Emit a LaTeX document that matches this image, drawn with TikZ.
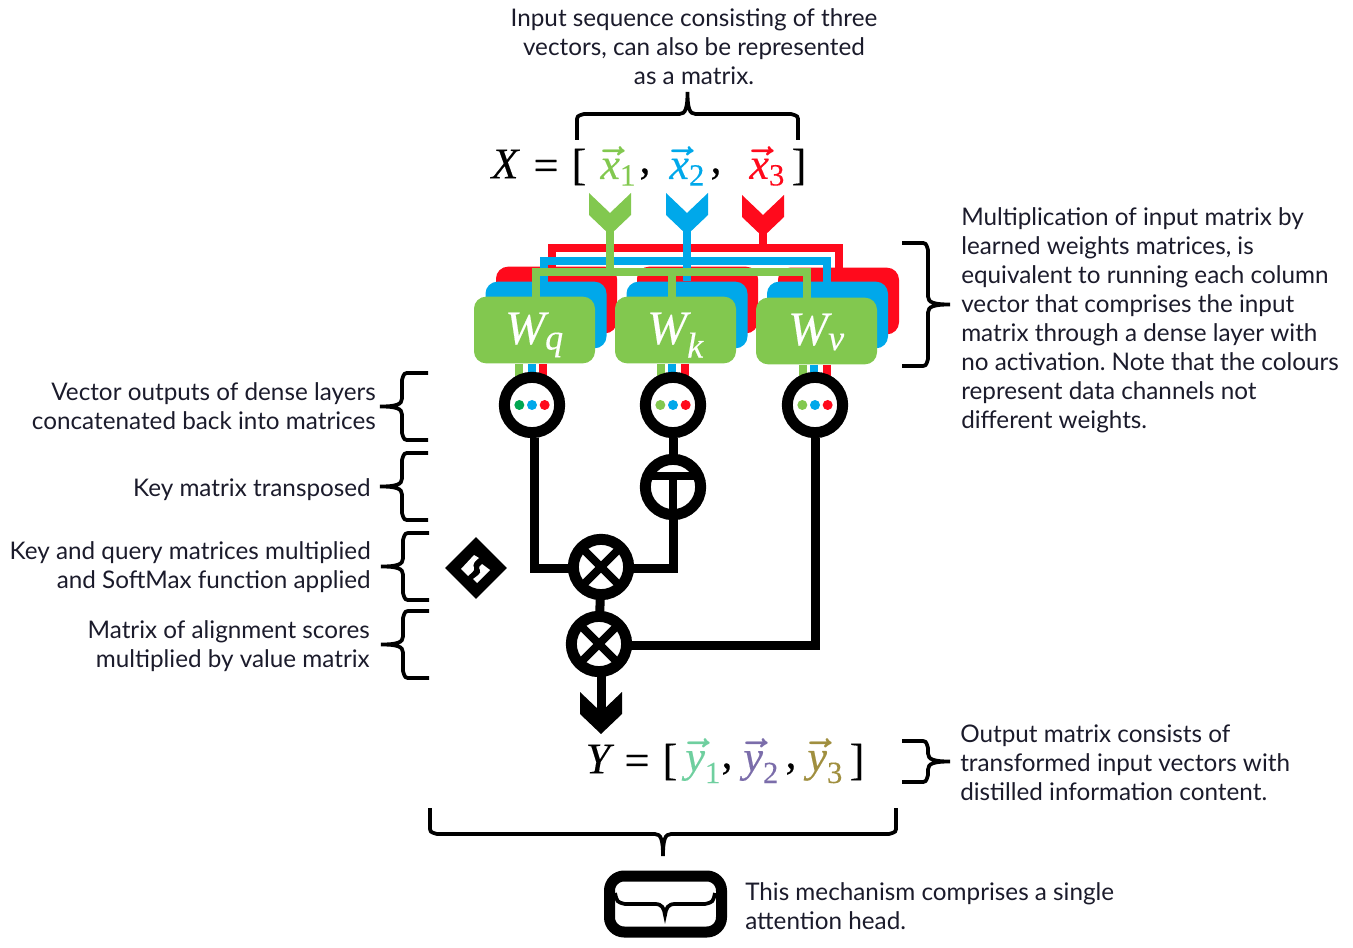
\documentclass[tikz,border=0pt]{standalone}
\usepackage{fontspec}
\setmainfont{Lato}
\newfontfamily\symfont[FakeBold=0.3]{Liberation Serif}
\frenchspacing
\usetikzlibrary{shapes.geometric}
\definecolor{wgreen}{HTML}{82C84F}
\definecolor{wblue}{HTML}{00A8EA}
\definecolor{wred}{HTML}{FF0A1C}
\definecolor{dotgreen}{HTML}{00A651}
\definecolor{ymint}{HTML}{6FCF9F}
\definecolor{ypurple}{HTML}{7B6DAA}
\definecolor{yolive}{HTML}{A08F3F}
\definecolor{inktext}{HTML}{1B1B2B}
\newcommand{\symit}[1]{\hbox{\symfont\itshape #1}}
\newcommand{\veclabel}[2]{{\boldmath$\vec{\symit{#1}}_{\hbox{\symfont\fontsize{7}{7}\selectfont #2}}$}}
\newcommand{\wsub}[1]{\raisebox{-10.5pt}[12pt][12pt]{\symit{W}$_{\hbox{\symfont\itshape\fontsize{27}{27}\selectfont #1}}$}}
\tikzset{
    wbox/.style={rounded corners=9pt, minimum width=90.75pt, minimum height=50pt, inner sep=0pt},
    wlabel/.style={text=white, font=\fontsize{36}{36}\selectfont},
    ring/.style={circle, draw=black, line width=8.25pt, fill=white, minimum size=41.5pt, inner sep=0pt},
    wire/.style={line width=6.75pt, draw=black},
    feed/.style={line width=6.5pt},
    dot/.style={circle, inner sep=0pt, minimum size=7.5pt},
    sym/.style={transform shape, scale=3.3, inner sep=0pt, font=\symfont},
    note/.style={text=inktext, font=\fontsize{18.2}{21.75}\selectfont, inner sep=0pt},
    curlyline/.style={draw=black, line width=2.8pt},
    chevron/.pic={\fill[pic actions] (-21,0) -- (0,20) -- (21,0) -- (21,22) -- (0,42) -- (-21,22) -- cycle;},
    curl/.pic={\draw[curlyline] (-#1,0) -- (-#1,-18) .. controls (-#1,-24) .. (-#1+7,-26) -- (-8,-26) .. controls (-2,-26) and (0,-32) .. (0,-48) .. controls (0,-32) and (2,-26) .. (8,-26) -- (#1-7,-26) .. controls (#1,-24) .. (#1,-18) -- (#1,0);}
}
\begin{document}
\begin{tikzpicture}[x=0.75pt, y=-0.75pt]
    \useasboundingbox (0,0) rectangle (1353,948);

    % Weight boxes
    \node[wbox, fill=wred] (Rq) at (556.5,300) {};
    \node[wbox, fill=wred] (Rk) at (697.5,300) {};
    \node[wbox, fill=wred] (Rv) at (838.5,301) {};

    % Red channel
    \coordinate (RedL) at (552,270);
    \coordinate (RedR) at (839,270);
    \coordinate (RedBar) at (763,248);
    \draw[feed, wred] (RedL) |- (RedBar) -| (RedR);
    \node[wbox, fill=wblue] (Bq) at (546,315) {};
    \node[wbox, fill=wblue] (Bk) at (687,315) {};
    \node[wbox, fill=wblue] (Bv) at (827.5,315) {};

    % Blue channel
    \coordinate (BlueL) at (544,285);
    \coordinate (BlueR) at (827,285);
    \coordinate (BlueBar) at (687,261);
    \coordinate (BlueIn) at (687,215);
    \coordinate (RedIn) at (763,215);
    \draw[feed, wblue] (BlueL) |- (BlueBar) -| (BlueR);
    \draw[feed, wblue] (BlueIn) -- (Bk.north);
    \draw[feed, wred] (RedIn) -- (RedBar);

    % Green channel
    \coordinate (GreenL) at (536,300);
    \coordinate (GreenM) at (672,300);
    \coordinate (GreenR) at (807,300);
    \coordinate (GreenBar) at (610,272);
    \coordinate (GreenIn) at (610,215);
    \draw[feed, wgreen] (GreenL) |- (GreenBar) -| (GreenR);
    \draw[feed, wgreen] (GreenBar -| GreenM) -- (GreenM);
    \draw[feed, wgreen] (GreenIn) -- (GreenBar);
    \node[wbox, fill=wgreen, wlabel] (Wq) at (534.5,330) {\wsub{q}};
    \node[wbox, fill=wgreen, wlabel] (Wk) at (675.5,330) {\wsub{k}};
    \node[wbox, fill=wgreen, wlabel] (Wv) at (816.5,331) {\wsub{v}};

    \pic[wgreen] at (610,193) {chevron};
    \pic[wblue] at (687,193) {chevron};
    \pic[wred] at (763,195) {chevron};

    % Stubs under the boxes
    \foreach \x/\y/\z/\t in {519/532/543/364, 661/672/685/364, 803/814/827/365} {
        \draw[feed, wgreen] (\x,\t) -- (\x,385);
        \draw[feed, wblue] (\y,\t) -- (\y,385);
        \draw[feed, wred] (\z,\t) -- (\z,385);
    }

    % Concatenation rings
    \node[ring] (Cq) at (532,405) {};
    \node[ring] (Ck) at (673,405) {};
    \node[ring] (Cv) at (815,405) {};
    \foreach \c/\g in {Cq/dotgreen, Ck/wgreen, Cv/wgreen} {
        \node[dot, fill=\g] (\c G) at ([xshift=-9.5pt]\c) {};
        \node[dot, fill=wblue] (\c B) at (\c) {};
        \node[dot, fill=wred] (\c R) at ([xshift=9.5pt]\c) {};
    }

    % Lines
    \coordinate (TurnQ) at (534,568);
    \coordinate (TurnT) at (673,568);
    \coordinate (TurnV) at (815,645);
    \coordinate (HeadY) at (601,715);
    \draw[wire] (Cq.south -| TurnQ) -- (TurnQ) -- (601,568);
    \draw[wire] (Ck) -- (TurnT) -- (601,568);
    \draw[wire] (601,567) -- (599,644);
    \draw[wire] (Cv) -- (TurnV) -- (599,645);
    \draw[wire] (601,644) -- (HeadY);
    \pic[black] at (601,692) {chevron};

    % Operations
    \node[ring] (Trans) at (673,487) {};
    \node[ring] (MulA) at (601,567) {};
    \node[ring] (MulB) at (599,644) {};
    \node[diamond, fill=black, minimum size=46.5pt, inner sep=0pt] (Soft) at (476,568) {};
    \fill[white] (474,555) -- (479,558) .. controls (475,561) and (472,564) .. (474,568) .. controls (475,571) and (471,573) .. (468,576) -- (461,569) -- cycle;
    \fill[white] (482,564) -- (490,570) -- (477,583) -- (473,579) .. controls (477,576) and (482,573) .. (480,570) .. controls (478,567) and (480,566) .. (482,564) -- cycle;
    \foreach \m in {MulA, MulB} {
        \draw[line width=6pt] ([shift={(-23,-23)}]\m.center) -- ([shift={(23,23)}]\m.center);
        \draw[line width=6pt] ([shift={(-23,23)}]\m.center) -- ([shift={(23,-23)}]\m.center);
    }
    \draw[line width=6pt] (647,476) -- (699,476);
    \draw[line width=6pt] (673,476) -- (673,515);

    % Input and output
    \node[sym] (Xname) at (505,164) {\symit{X}};
    \node[sym] (Xeq) at (546,170) {=};
    \node[sym] (Xopen) at (579,167) {[};
    \node[sym, wgreen] (X1) at (619,166) {\veclabel{x}{1}};
    \node[sym] (Xc1) at (645,174) {,};
    \node[sym, wblue] (X2) at (688,166) {\veclabel{x}{2}};
    \node[sym] (Xc2) at (716,174) {,};
    \node[sym, wred] (X3) at (768,166) {\veclabel{x}{3}};
    \node[sym] (Xclose) at (799,167) {]};

    \node[sym] (Yname) at (598,759) {\symit{Y}};
    \node[sym] (Yeq) at (637,765) {=};
    \node[sym] (Yopen) at (670,762) {[};
    \node[sym, ymint] (Y1) at (704,761) {\veclabel{y}{1}};
    \node[sym] (Yc1) at (727,769) {,};
    \node[sym, ypurple] (Y2) at (762,761) {\veclabel{y}{2}};
    \node[sym] (Yc2) at (791,769) {,};
    \node[sym, yolive] (Y3) at (826,761) {\veclabel{y}{3}};
    \node[sym] (Yclose) at (857,762) {]};

    % Braces
    \pic at (687.5,140) {curl=110.5};
    \pic[rotate=-90] at (902,304.5) {curl=61.5};
    \pic[rotate=90] at (428,406.5) {curl=33.5};
    \pic[rotate=90] at (428,486.5) {curl=33.5};
    \pic[rotate=90] at (429,566.5) {curl=33.5};
    \pic[rotate=90] at (429,644.5) {curl=33.5};
    \pic[rotate=-90] at (902,761.5) {curl=20.5};
    \pic[rotate=180] at (663,808) {curl=233};

    % Head icon
    \node[draw=black, line width=8.25pt, rounded corners=11pt, minimum width=84pt, minimum height=42pt, inner sep=0pt] (Head) at (665.5,904) {};
    \draw[curlyline] (615,893) .. controls (617,902) .. (625,904) -- (655,904) .. controls (662,904) and (664,908) .. (665,915) .. controls (666,908) and (668,904) .. (675,904) -- (705,904) .. controls (713,902) .. (715,893);

    % Notes
    \node[note, align=center] (NoteIn) at (694,47) {Input sequence consisting of three\\vectors, can also be represented\\as a matrix.};
    \node[note, align=left, anchor=north west] (NoteW) at (961,207) {Multiplication of input matrix by\\learned weights matrices, is\\equivalent to running each column\\vector that comprises the input\\matrix through a dense layer with\\no activation. Note that the colours\\represent data channels not\\different weights.};
    \node[note, align=right, anchor=east] (NoteDense) at (376,406) {Vector outputs of dense layers\\concatenated back into matrices};
    \node[note, align=right, anchor=east] (NoteKey) at (371,490) {Key matrix transposed};
    \node[note, align=right, anchor=east] (NoteSoft) at (371,567) {Key and query matrices multiplied\\and SoftMax function applied};
    \node[note, align=right, anchor=east] (NoteScore) at (370,646) {Matrix of alignment scores\\multiplied by value matrix};
    \node[note, align=left, anchor=west] (NoteOut) at (960,763) {Output matrix consists of\\transformed input vectors with\\distilled information content.};
    \node[note, align=left, anchor=west] (NoteHead) at (745,906) {This mechanism comprises a single\\attention head.};

\end{tikzpicture}
\end{document}
